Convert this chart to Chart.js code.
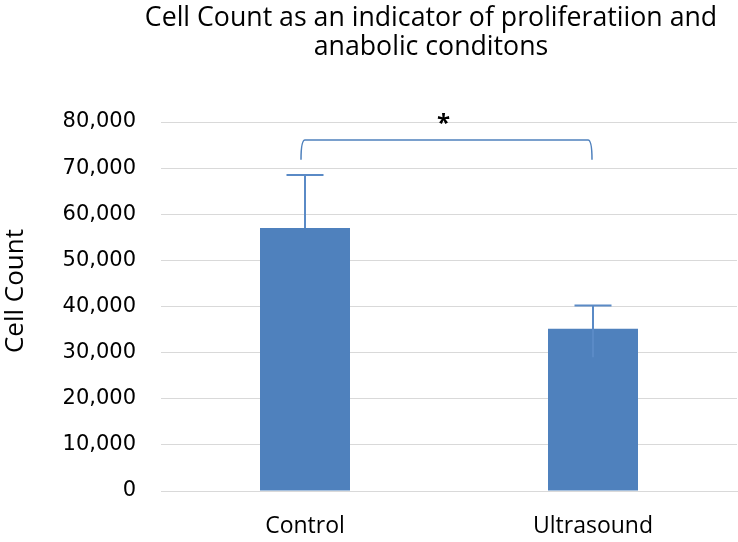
<!DOCTYPE html>
<html><head><meta charset="utf-8">
<script src="https://cdn.jsdelivr.net/npm/chart.js@4/dist/chart.umd.min.js"></script>
<style>html,body{margin:0;padding:0;background:#fff}#wrap{width:738px;height:542px}</style>
</head><body><div id="wrap"><canvas id="c" width="738" height="542"></canvas></div>
<script>
const categories = ["Control", "Ultrasound"];
const cellCounts = [57000, 35200];
const errorUpper = [68500, 40200];
const errorLower = [null, 29000];
const yTicks = [0, 10000, 20000, 30000, 40000, 50000, 60000, 70000, 80000];
const bracketLevels = [76100, 71800]; // top of bracket, bottom of its legs
const significanceLabel = "*";
const titleLines = ["Cell Count as an indicator of proliferatiion and", "anabolic conditons"];
const yAxisTitle = "Cell Count";

const FONT = "'Open Sans', 'Liberation Sans', sans-serif";
const TICKFONT = "'DejaVu Sans', sans-serif";
const BLUE = "#4f81bd";
const ERRBLUE = "#5a8ac6";

const titlePlugin = {
  id: 'ctitle',
  afterDraw(chart) {
    const ctx = chart.ctx;
    ctx.save();
    ctx.fillStyle = '#000';
    ctx.font = "26.7px " + FONT;
    ctx.textAlign = 'center'; ctx.textBaseline = 'alphabetic';
    titleLines.forEach((t, i) => ctx.fillText(t, 431, 26 + i * 29));
    // y axis title
    ctx.font = "26px " + FONT;
    ctx.translate(16, 291);
    ctx.rotate(-Math.PI / 2);
    ctx.textBaseline = 'middle';
    ctx.fillText(yAxisTitle, 0, 0);
    ctx.restore();
  }
};

const errPlugin = {
  id: 'errs',
  afterDatasetsDraw(chart) {
    const ctx = chart.ctx, x = chart.scales.x, y = chart.scales.y;
    ctx.save();
    ctx.lineWidth = 2;
    ctx.strokeStyle = ERRBLUE;
    categories.forEach((c, i) => {
      const px = x.getPixelForValue(i);
      const top = y.getPixelForValue(errorUpper[i]);
      const base = y.getPixelForValue(cellCounts[i]);
      ctx.beginPath();
      if (errorLower[i] != null) { ctx.moveTo(px, y.getPixelForValue(errorLower[i])); } else { ctx.moveTo(px, base); }
      ctx.lineTo(px, top);
      ctx.moveTo(px - 18.5, top); ctx.lineTo(px + 18.5, top);
      ctx.stroke();
    });
    // significance bracket
    const x0 = x.getPixelForValue(0) - 4, x1 = x.getPixelForValue(1) - 1;
    const yt = y.getPixelForValue(bracketLevels[0]), yb = y.getPixelForValue(bracketLevels[1]);
    ctx.lineWidth = 1.5;
    ctx.strokeStyle = BLUE;
    ctx.beginPath();
    ctx.moveTo(x0, yb); ctx.quadraticCurveTo(x0, yt, x0 + 4, yt);
    ctx.lineTo(x1 - 4, yt); ctx.quadraticCurveTo(x1, yt, x1, yb);
    ctx.stroke();
    ctx.fillStyle = '#000';
    ctx.font = "bold 24px " + FONT;
    ctx.textAlign = 'center'; ctx.textBaseline = 'middle';
    ctx.fillText(significanceLabel, (x0 + x1) / 2 - 3, yt - 16);
    ctx.restore();
  }
};

new Chart(document.getElementById('c'), {
  type: 'bar',
  data: { labels: categories, datasets: [{ data: cellCounts, backgroundColor: BLUE, categoryPercentage: 1, barPercentage: 0.3125 }] },
  options: {
    responsive: false, animation: false,
    layout: { padding: { top: 122, right: 1, bottom: 0, left: 0 } },
    plugins: {
      legend: { display: false }, tooltip: { enabled: false }, title: { display: false }
    },
    scales: {
      x: {
        afterFit(s) { s.height = 51; },
        grid: { display: false, drawTicks: false },
        border: { display: true, color: '#d9d9d9', width: 1 },
        ticks: { color: '#000', font: { family: FONT, size: 23 }, padding: 22 }
      },
      y: {
        min: 0, max: 80000,
        afterFit(s) { s.width = 161; },
        afterBuildTicks(s) { s.ticks = yTicks.map(v => ({ value: v })); },
        grid: { color: '#d9d9d9', lineWidth: 1, drawTicks: false },
        border: { display: false },
        ticks: { color: '#000', font: { family: TICKFONT, size: 21 }, padding: 25, callback: v => v.toLocaleString('en-US') }
      }
    }
  },
  plugins: [errPlugin, titlePlugin]
});
</script></body></html>
